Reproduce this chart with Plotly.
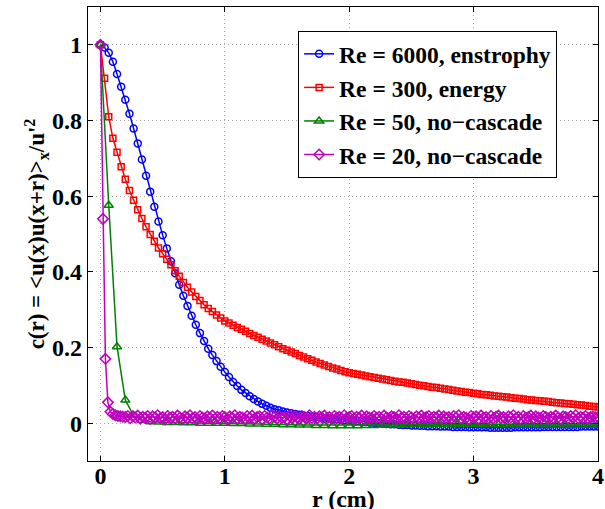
import plotly.graph_objects as go

# ---------------- data ----------------
r_fine = [k / 30 for k in range(121)]      # Re = 6000 and Re = 300 sampling
r_green = [k / 15 for k in range(61)]      # Re = 50 sampling
r_mag = [k / 50 for k in range(201)]       # Re = 20 sampling

c_enstrophy = [
    1.0, 0.993, 0.979, 0.955, 0.923, 0.889, 0.855, 0.818, 0.779, 0.739,
    0.697, 0.654, 0.612, 0.572, 0.533, 0.497, 0.462, 0.428, 0.396, 0.366,
    0.337, 0.310, 0.284, 0.260, 0.238, 0.217, 0.197, 0.180, 0.164, 0.149,
    0.135,
    0.122, 0.109, 0.098, 0.088, 0.080, 0.071, 0.064, 0.057, 0.051, 0.046,
    0.041, 0.037, 0.034, 0.031, 0.028, 0.026, 0.024, 0.022, 0.020, 0.019,
    0.017, 0.016, 0.015, 0.013, 0.012, 0.011, 0.010, 0.009, 0.008, 0.007,
    0.006, 0.005, 0.004, 0.003, 0.002, 0.001, 0.000, -0.001, -0.002, -0.003,
    -0.003, -0.004, -0.005, -0.005, -0.006,
    -0.006, -0.007, -0.007, -0.008, -0.008, -0.008, -0.009, -0.009, -0.009, -0.010,
    -0.010, -0.010, -0.010, -0.011, -0.011,
    -0.011, -0.011, -0.011, -0.012, -0.012, -0.012, -0.012, -0.012, -0.012, -0.011,
    -0.011, -0.011, -0.011, -0.011, -0.011,
    -0.011, -0.010, -0.010, -0.010, -0.010, -0.010, -0.010, -0.010, -0.010, -0.010,
    -0.009, -0.009, -0.009, -0.009, -0.009,
]

c_energy = [
    1.0, 0.912, 0.810, 0.753, 0.716, 0.678, 0.645, 0.615, 0.589, 0.564,
    0.541, 0.519, 0.499, 0.481, 0.463, 0.448, 0.433, 0.419, 0.403, 0.388,
    0.372, 0.359, 0.347, 0.335, 0.324, 0.313, 0.303, 0.295, 0.286, 0.278,
    0.270,
    0.265, 0.259, 0.253, 0.248, 0.243, 0.237, 0.232, 0.227, 0.222, 0.217,
    0.212, 0.207, 0.202, 0.197, 0.193, 0.188, 0.184, 0.179, 0.175, 0.170,
    0.166, 0.162, 0.158, 0.154, 0.150, 0.146, 0.143, 0.139, 0.136, 0.133,
    0.131, 0.129, 0.127, 0.125, 0.123, 0.121, 0.119, 0.117, 0.115, 0.113,
    0.111, 0.109, 0.108, 0.106, 0.104,
    0.102, 0.100, 0.099, 0.097, 0.095, 0.094, 0.092, 0.090, 0.089, 0.087,
    0.085, 0.084, 0.082, 0.081, 0.079,
    0.078, 0.076, 0.075, 0.074, 0.072, 0.071, 0.070, 0.069, 0.067, 0.066,
    0.065, 0.064, 0.062, 0.061, 0.060,
    0.059, 0.058, 0.057, 0.055, 0.054, 0.053, 0.052, 0.051, 0.050, 0.049,
    0.048, 0.047, 0.045, 0.044, 0.043,
]

c_re50 = [
    1.0, 0.576, 0.202, 0.061, 0.020, 0.008, 0.004, 0.003, 0.002, 0.002,
    0.001, 0.001, 0.000, 0.000, 0.000, 0.000,
    -0.001, -0.001, -0.002, -0.002, -0.003, -0.003, -0.004, -0.004, -0.005, -0.005,
    -0.006, -0.006, -0.007, -0.007, -0.007, -0.007, -0.006, -0.006, -0.005, -0.005,
    -0.004, -0.004, -0.003, -0.003, -0.003, -0.003, -0.003, -0.003, -0.003, -0.003,
    -0.004, -0.004, -0.004, -0.004, -0.005, -0.005, -0.005, -0.005, -0.005, -0.005,
    -0.005, -0.005, -0.005, -0.005, -0.005,
]

c_re20 = [
    1.0, 0.54, 0.17, 0.055, 0.030, 0.024, 0.021, 0.019, 0.018, 0.017,
    0.016, 0.019, 0.013, 0.018, 0.015, 0.020, 0.012, 0.017, 0.014, 0.019,
    0.011, 0.018, 0.015, 0.021, 0.013, 0.016, 0.010, 0.019, 0.014, 0.017,
    0.012, 0.020, 0.015, 0.011, 0.018, 0.014, 0.021, 0.013, 0.016, 0.010,
    0.019, 0.015, 0.012, 0.018, 0.014, 0.020, 0.011, 0.017, 0.013, 0.019,
    0.016, 0.010, 0.018, 0.014, 0.021, 0.012, 0.017, 0.015, 0.011, 0.019,
    0.014, 0.020, 0.012, 0.016, 0.018, 0.011, 0.019, 0.015, 0.013, 0.021,
    0.017, 0.012, 0.019, 0.014, 0.016, 0.010, 0.020, 0.013, 0.018, 0.015,
    0.011, 0.019, 0.016, 0.013, 0.021, 0.014, 0.017, 0.012, 0.018, 0.015,
    0.020, 0.013, 0.016, 0.011, 0.019, 0.015, 0.017, 0.012, 0.021, 0.014,
    0.016, 0.019, 0.012, 0.017, 0.014, 0.020, 0.011, 0.018, 0.015, 0.013,
    0.019, 0.014, 0.017, 0.011, 0.020, 0.015, 0.013, 0.018, 0.016, 0.012,
    0.021, 0.014, 0.017, 0.012, 0.019, 0.015, 0.011, 0.018, 0.014, 0.020,
    0.013, 0.016, 0.019, 0.012, 0.017, 0.015, 0.020, 0.011, 0.018, 0.014,
    0.016, 0.012, 0.019, 0.015, 0.021, 0.013, 0.017, 0.014, 0.010, 0.019,
    0.015, 0.018, 0.012, 0.020, 0.014, 0.016, 0.011, 0.019, 0.013, 0.017,
    0.020, 0.014, 0.016, 0.012, 0.018, 0.015, 0.021, 0.013, 0.017, 0.011,
    0.019, 0.014, 0.016, 0.020, 0.012, 0.018, 0.015, 0.013, 0.019, 0.016,
    0.012, 0.017, 0.014, 0.020, 0.015, 0.011, 0.018, 0.016, 0.013, 0.019,
    0.015, 0.021, 0.013, 0.017, 0.014, 0.019, 0.012, 0.016, 0.018, 0.015,
    0.016,
]

series_names = [
    "Re = 6000, enstrophy",
    "Re = 300, energy",
    "Re = 50, no\u2212cascade",
    "Re = 20, no\u2212cascade",
]
x_ticks = [0, 1, 2, 3, 4]
x_ticklabels = ["0", "1", "2", "3", "4"]
y_ticks = [0, 0.2, 0.4, 0.6, 0.8, 1.0]
y_ticklabels = ["0", "0.2", "0.4", "0.6", "0.8", "1"]
x_title = "r (cm)"
y_title = "c(r) = &lt;u(x)u(x+r)&gt;<sub>x</sub>/u'<sup>2</sup>"

# ---------------- figure ----------------
FONT = "Liberation Serif, Times New Roman, Times, serif"
specs = [
    (r_fine, c_enstrophy, "#0000FF", "circle-open", 7),
    (r_fine, c_energy, "#FF0000", "square-open", 6),
    (r_green, c_re50, "#008000", "triangle-up-open", 8),
    (r_mag, c_re20, "#BF00BF", "diamond-open", 8),
]

fig = go.Figure()
for i, (xs, ys, col, sym, sz) in enumerate(specs):
    fig.add_trace(go.Scatter(
        x=xs, y=ys, mode="lines+markers", name="<b>" + series_names[i] + "</b>",
        legendgroup=f"g{i}",
        line=dict(color=col, width=1.5),
        marker=dict(symbol=sym, size=sz, color=col, line=dict(color=col, width=1.5)),
    ))

tfont = dict(family=FONT, size=24, color="black")
lfont = dict(family=FONT, size=23.5, color="black")
axis_common = dict(
    showline=True, linecolor="black", linewidth=1.3, mirror="ticks",
    ticks="inside", ticklen=5, tickcolor="black", tickwidth=1,
    showgrid=True, gridcolor="#a8a8a8", griddash="1px,3px", gridwidth=1,
    zeroline=False,
    tickfont=tfont,
)

fig.update_xaxes(
    range=[-0.1, 4], tickvals=x_ticks, ticktext=["<b>" + t + "</b>" for t in x_ticklabels],
    ticklabelstandoff=-7,
    **axis_common,
)
fig.update_yaxes(
    range=[-0.1, 1.1], tickvals=y_ticks, ticktext=["<b>" + t + "</b>" for t in y_ticklabels],
    title=dict(text="<b>" + y_title + "</b>",
               font=dict(family=FONT, size=23, color="black"), standoff=0),
    **axis_common,
)

fig.add_annotation(
    text="<b>" + x_title + "</b>", xref="paper", yref="paper",
    x=0.5, y=-0.083, xanchor="center", yanchor="middle",
    showarrow=False, font=tfont,
)

fig.update_layout(
    width=605, height=509,
    margin=dict(l=88, r=7, t=7, b=48, autoexpand=False),
    paper_bgcolor="white", plot_bgcolor="white",
    font=tfont,
    legend=dict(
        x=0.412, y=0.947, xanchor="left", yanchor="top",
        bgcolor="white", bordercolor="black", borderwidth=1,
        font=lfont,
        tracegroupgap=0, itemwidth=30,
    ),
    showlegend=True,
)

fig.write_html(
    "out.html",
    config={"displayModeBar": False},
    post_script="document.body.style.margin='0';document.body.style.overflow='hidden';",
)
